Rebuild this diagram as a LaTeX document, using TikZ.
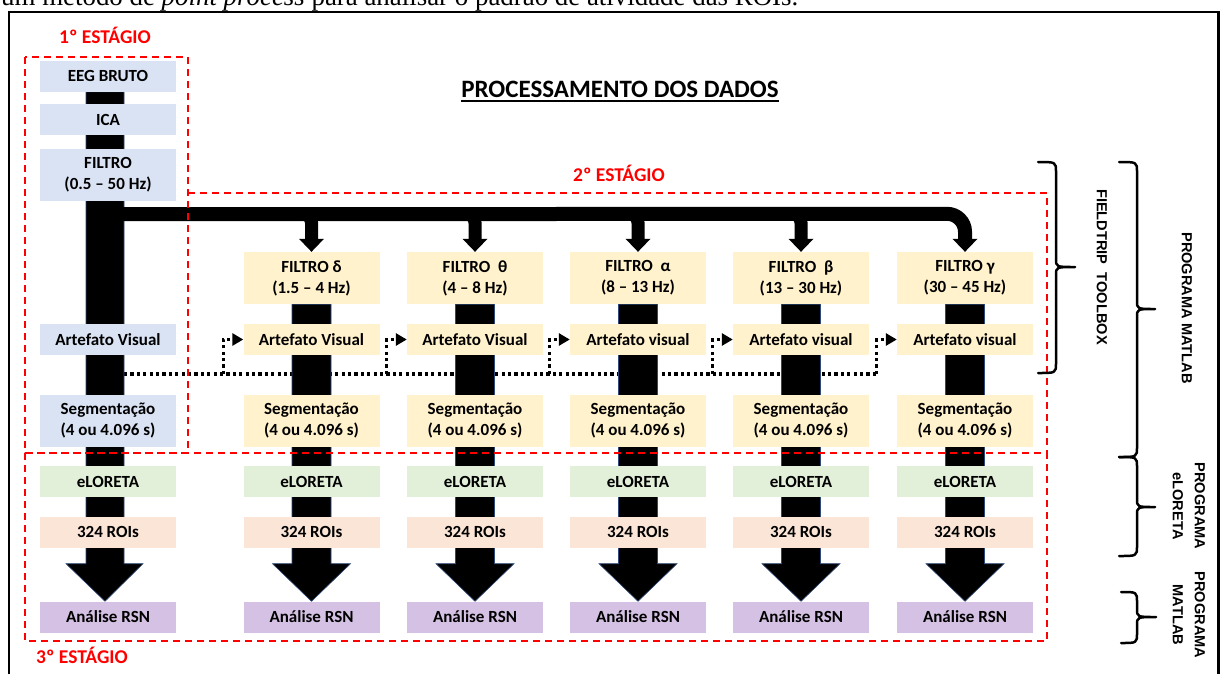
\documentclass[tikz,border=0pt]{standalone}
\usepackage{graphicx}
\usepackage{fontspec}
\setmainfont{Carlito}
\newfontfamily\arialfont{Liberation Sans}
\newfontfamily\timesfont{Liberation Serif}
\usetikzlibrary{calc,arrows.meta}
\pgfdeclarelayer{bg}
\pgfsetlayers{bg,main}
\definecolor{bxblue}{HTML}{DAE3F3}
\definecolor{bxyel}{HTML}{FFF2CC}
\definecolor{bxgreen}{HTML}{E2F0D9}
\definecolor{bxpeach}{HTML}{FBE5D6}
\definecolor{bxpurple}{HTML}{D5C1E3}
\definecolor{stred}{HTML}{FF0000}
\definecolor{barline}{HTML}{2F4A7A}
\newcommand\mybrace[6]{\draw[brace] (#1,#4) .. controls (#2,#4) .. (#2,{#4+10}) -- (#2,{#5-8}) .. controls (#2,#5) .. (#3,#5) .. controls (#2,#5) .. (#2,{#5+8}) -- (#2,{#6-10}) .. controls (#2,#6) .. (#1,#6);}
\begin{document}
\begin{tikzpicture}[x=1pt,y=-1pt,
  box/.style={minimum width=136pt, minimum height=31pt, inner sep=0pt, align=center, font=\bfseries\fontsize{17}{21}\selectfont},
  box2/.style={box, minimum height=52pt},
  stage/.style={draw=stred, line width=2pt, dash pattern=on 7pt off 5pt},
  stagelbl/.style={text=stred, inner sep=0pt, font=\bfseries\fontsize{19.5}{22}\selectfont},
  bar/.style={fill=black, draw=barline, line width=0.6pt},
  pipe/.style={draw=black, line width=14pt, rounded corners=18pt},
  branch/.style={draw=black, line width=13pt, rounded corners=9pt},
  head/.style={fill=black},
  dotline/.style={draw=black, line width=3.2pt, dash pattern=on 3.2pt off 3.2pt},
  dotarrow/.style={dotline, -{Triangle[length=11pt,width=12pt]}},
  brace/.style={draw=black, line width=2.5pt, line cap=round, line join=round},
  rotlbl/.style={rotate=-90, align=center, inner sep=0pt, font=\arialfont\bfseries\fontsize{14.6}{22}\selectfont},
]
\useasboundingbox (0,0) rectangle (1220,673);
% caption fragment above the frame
\node[anchor=base west, inner sep=0pt, font=\timesfont] (cap) at (1,5) {\resizebox{797pt}{!}{um método de \textit{point process} para analisar o padrão de atividade das ROIs.}};
% frame
\draw[line width=2.4pt] (9,12) rectangle (1218.5,690);
% title
\node[anchor=base, inner sep=0pt, font=\bfseries\fontsize{25}{28}\selectfont] (title) at (620,97) {PROCESSAMENTO DOS DADOS};
\draw[line width=1.6pt] ($(title.base west)+(0,4)$) -- ($(title.base east)+(0,4)$);

% column 0 nodes
\node[box, fill=bxblue] (eeg) at (108,76) {EEG BRUTO};
\node[box, fill=bxblue] (ica) at (108,119.5) {ICA};
\node[box2, fill=bxblue] (f0) at (108,175) {FILTRO\\(0.5 – 50 Hz)};
\node[box, fill=bxblue] (a0) at (108,339.5) {Artefato Visual};
\node[box2, fill=bxblue] (s0) at (108,420.5) {Segmentação\\(4 ou 4.096 s)};
\node[box, fill=bxgreen] (e0) at (108,481.5) {eLORETA};
\node[box, fill=bxpeach] (r0) at (108,532) {324 ROIs};
\node[box, fill=bxpurple] (n0) at (108,617) {Análise RSN};

\begin{pgfonlayer}{bg}
  % dotted line
  \coordinate (dl) at (124,374);
  \coordinate (dr) at (877,374);
  \draw[dotline] (dl) -- (dr);
  % bar and big arrow of column 0
  \draw[bar] ($(eeg.south)+(-22,0)$) -- ($(r0.south)+(-22,16)$) -- ($(r0.south)+(-42,16)$) -- ($(n0.north)+(-3,0)$) -- ($(r0.south)+(35,16)$) -- ($(r0.south)+(16,16)$) -- ($(eeg.south)+(16,0)$) -- cycle;
\end{pgfonlayer}

% other columns
\foreach \i/\cx/\g/\rng/\av in {1/311.5/δ/1.5 – 4 Hz/Visual, 2/475/\ θ/4 – 8 Hz/Visual, 3/638/\ α/8 – 13 Hz/visual, 4/801/\ β/13 – 30 Hz/visual, 5/965/γ/30 – 45 Hz/visual}{
  \node[box2, fill=bxyel] (f\i) at (\cx,278) {FILTRO \g\\(\rng)};
  \node[box, fill=bxyel] (a\i) at (\cx,339.5) {Artefato \av};
  \node[box2, fill=bxyel] (s\i) at (\cx,420.5) {Segmentação\\(4 ou 4.096 s)};
  \node[box, fill=bxgreen] (e\i) at (\cx,481.5) {eLORETA};
  \node[box, fill=bxpeach] (r\i) at (\cx,532) {324 ROIs};
  \node[box, fill=bxpurple] (n\i) at (\cx,617) {Análise RSN};
  \begin{pgfonlayer}{bg}
    % dotted branch into Artefato
    \draw[dotarrow] ($(a\i.west)+(-20,34.5)$) |- (a\i.west);
    % bar and big arrow
    \draw[bar] ($(f\i.south)+(-19.5,0)$) -- ($(r\i.south)+(-19.5,16)$) -- ($(r\i.south)+(-39,16)$) -- (n\i.north) -- ($(r\i.south)+(39,16)$) -- ($(r\i.south)+(19.5,16)$) -- ($(f\i.south)+(19.5,0)$) -- cycle;
    % arrow head onto filter box
    \fill[head] ($(f\i.north)+(-12.5,-13)$) -- ($(f\i.north)+(12.5,-13)$) -- (f\i.north) -- cycle;
  \end{pgfonlayer}
}
\begin{pgfonlayer}{bg}
  % main pipe from FILTRO (0.5-50 Hz) to FILTRO gamma
  \draw[pipe] ($(f0.south)+(10,13)$) -- ($(f5.north)+(0,-38)$) -- ($(f5.north)+(0,-12)$);
  % branches to the other filters
  \foreach \i in {1,...,4}{
    \draw[branch] ($(f\i.north)+(-30,-38)$) -- ($(f\i.north)+(0,-38)$) -- ($(f\i.north)+(0,-11)$);
  }
\end{pgfonlayer}

% stages
\draw[stage] (25,57) rectangle (188,453);
\draw[stage] (188,193) -- (1047,193) -- (1047,453);
\draw[stage] (25,453) rectangle (1047,641);
\node[stagelbl, anchor=base] (st1) at (105,43) {1º ESTÁGIO};
\node[stagelbl, anchor=base] (st2) at (619,181) {2º ESTÁGIO};
\node[stagelbl, anchor=base] (st3) at (82,663) {3º ESTÁGIO};

% braces and their labels
\mybrace{1038}{1056}{1075}{162}{267}{373}
\mybrace{1119}{1137}{1155}{162}{309}{457}
\mybrace{1119}{1137}{1155}{457}{507}{556}
\mybrace{1121}{1137}{1156}{592}{617}{643}
\node[rotlbl] (lb1) at (1102,267) {FIELDTRIP\ \ TOOLBOX};
\node[rotlbl] (lb2) at (1187,308) {PROGRAMA MATLAB};
\node[rotlbl] (lb3) at (1189,506) {PROGRAMA\\eLORETA};
\node[rotlbl] (lb4) at (1189,615) {PROGRAMA\\MATLAB};
\end{tikzpicture}
\end{document}
